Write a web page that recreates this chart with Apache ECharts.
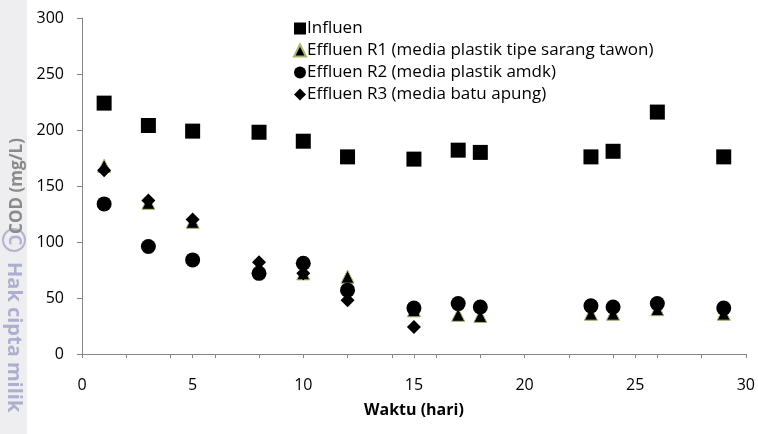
<!DOCTYPE html>
<html>
<head>
<meta charset="utf-8">
<script src="https://cdn.jsdelivr.net/npm/echarts@6/dist/echarts.min.js"></script>
<style>
html,body{margin:0;padding:0;background:#fff;}
#chart{width:758px;height:434px;}
</style>
</head>
<body>
<div id="chart"></div>
<script>
var seriesNames = ['Influen', 'Effluen R1 (media plastik tipe sarang tawon)', 'Effluen R2 (media plastik amdk)', 'Effluen R3 (media batu apung)'];
var daysAll = [1, 3, 5, 8, 10, 12, 15, 17, 18, 23, 24, 26, 29];
var daysR3 = [1, 3, 5, 8, 10, 12, 15];
var influen = [224, 204, 199, 198, 190, 176, 174, 182, 180, 176, 181, 216, 176];
var effluenR1 = [168, 135, 118, 78, 72, 69, 39, 35, 34, 36, 36, 40, 36];
var effluenR2 = [134, 96, 84, 72, 81, 57, 41, 45, 42, 43, 42, 45, 41];
var effluenR3 = [164, 137, 120, 82, 72, 48, 24];
var xTicks = [0, 5, 10, 15, 20, 25, 30];
var yTicks = [0, 50, 100, 150, 200, 250, 300];

function pairs(xs, ys) { return xs.map(function (x, i) { return [x, ys[i]]; }); }

var FONT = 'Open Sans';
var chart = echarts.init(document.getElementById('chart'));
chart.setOption({
  animation: false,
  textStyle: { fontFamily: FONT },
  graphic: [
    { type: 'rect', left: 0, top: 0, shape: { width: 27, height: 434 }, style: { fill: '#eeeef0' }, z: -10 },
    { type: 'circle', shape: { cx: 14, cy: 240, r: 11 }, style: { fill: 'none', stroke: '#b4b4d2', lineWidth: 2 }, z: -5 },
    { type: 'text', x: 14, y: 240, rotation: -Math.PI / 2, style: { text: 'C', font: 'bold 17px "Open Sans"', fill: '#b4b4d2', align: 'center', verticalAlign: 'middle' }, z: -5 },
    { type: 'text', x: 14, y: 262, rotation: -Math.PI / 2, style: { text: 'Hak cipta milik', font: 'bold 20px "Open Sans"', fill: '#aeaed0', align: 'left', verticalAlign: 'middle' }, z: -5 }
  ],
  grid: { left: 82, right: 10, top: 18, bottom: 80 },
  legend: {
    orient: 'vertical', left: 288, top: 15, itemWidth: 12, itemHeight: 12, itemGap: 5,
    data: seriesNames,
    textStyle: { fontSize: 17, color: '#000', fontFamily: FONT, padding: [0, 0, 0, -4] }
  },
  xAxis: [{
    type: 'value', min: 0, max: 30, interval: 5,
    name: 'Waktu (hari)', nameLocation: 'middle', nameGap: 48,
    nameTextStyle: { fontSize: 16, fontWeight: 'bold', color: '#000' },
    axisLine: { lineStyle: { color: '#868686', width: 1 } },
    axisTick: { show: true, length: 4, inside: false, lineStyle: { color: '#868686' } },
    axisLabel: { fontSize: 16, color: '#000', margin: 23, formatter: function (v) { return xTicks.indexOf(v) >= 0 ? String(v) : ''; } },
    splitLine: { show: false }
  }, {
    type: 'value', min: 0, max: 30, interval: 2, position: 'bottom',
    axisLine: { show: false },
    axisTick: { show: true, length: 4, lineStyle: { color: '#868686' } },
    axisLabel: { show: false },
    splitLine: { show: false }
  }],
  yAxis: {
    type: 'value', min: 0, max: 300, interval: 50,
    name: 'COD (mg/L)', nameLocation: 'middle', nameGap: 55,
    nameTextStyle: { fontSize: 17, fontWeight: 'bold', color: '#8a8a8a' },
    axisLine: { show: true, lineStyle: { color: '#868686', width: 1 } },
    axisTick: { show: true, length: 5, lineStyle: { color: '#868686' } },
    axisLabel: { fontSize: 16, color: '#000', margin: 18, formatter: function (v) { return yTicks.indexOf(v) >= 0 ? String(v) : ''; } },
    splitLine: { show: false }
  },
  series: [
    { name: seriesNames[0], type: 'scatter', symbol: 'rect', symbolSize: 15, data: pairs(daysAll, influen),
      itemStyle: { color: '#000', opacity: 1 } },
    { name: seriesNames[1], type: 'scatter', symbol: 'triangle', symbolSize: 13, data: pairs(daysAll, effluenR1),
      itemStyle: { color: '#000', borderColor: '#aab46a', borderWidth: 1, opacity: 1 } },
    { name: seriesNames[3], type: 'scatter', symbol: 'diamond', symbolSize: 14, data: pairs(daysR3, effluenR3),
      itemStyle: { color: '#000', opacity: 1 } },
    { name: seriesNames[2], type: 'scatter', symbol: 'circle', symbolSize: 15, data: pairs(daysAll, effluenR2),
      itemStyle: { color: '#000', opacity: 1 } }
  ]
});
</script>
</body>
</html>
